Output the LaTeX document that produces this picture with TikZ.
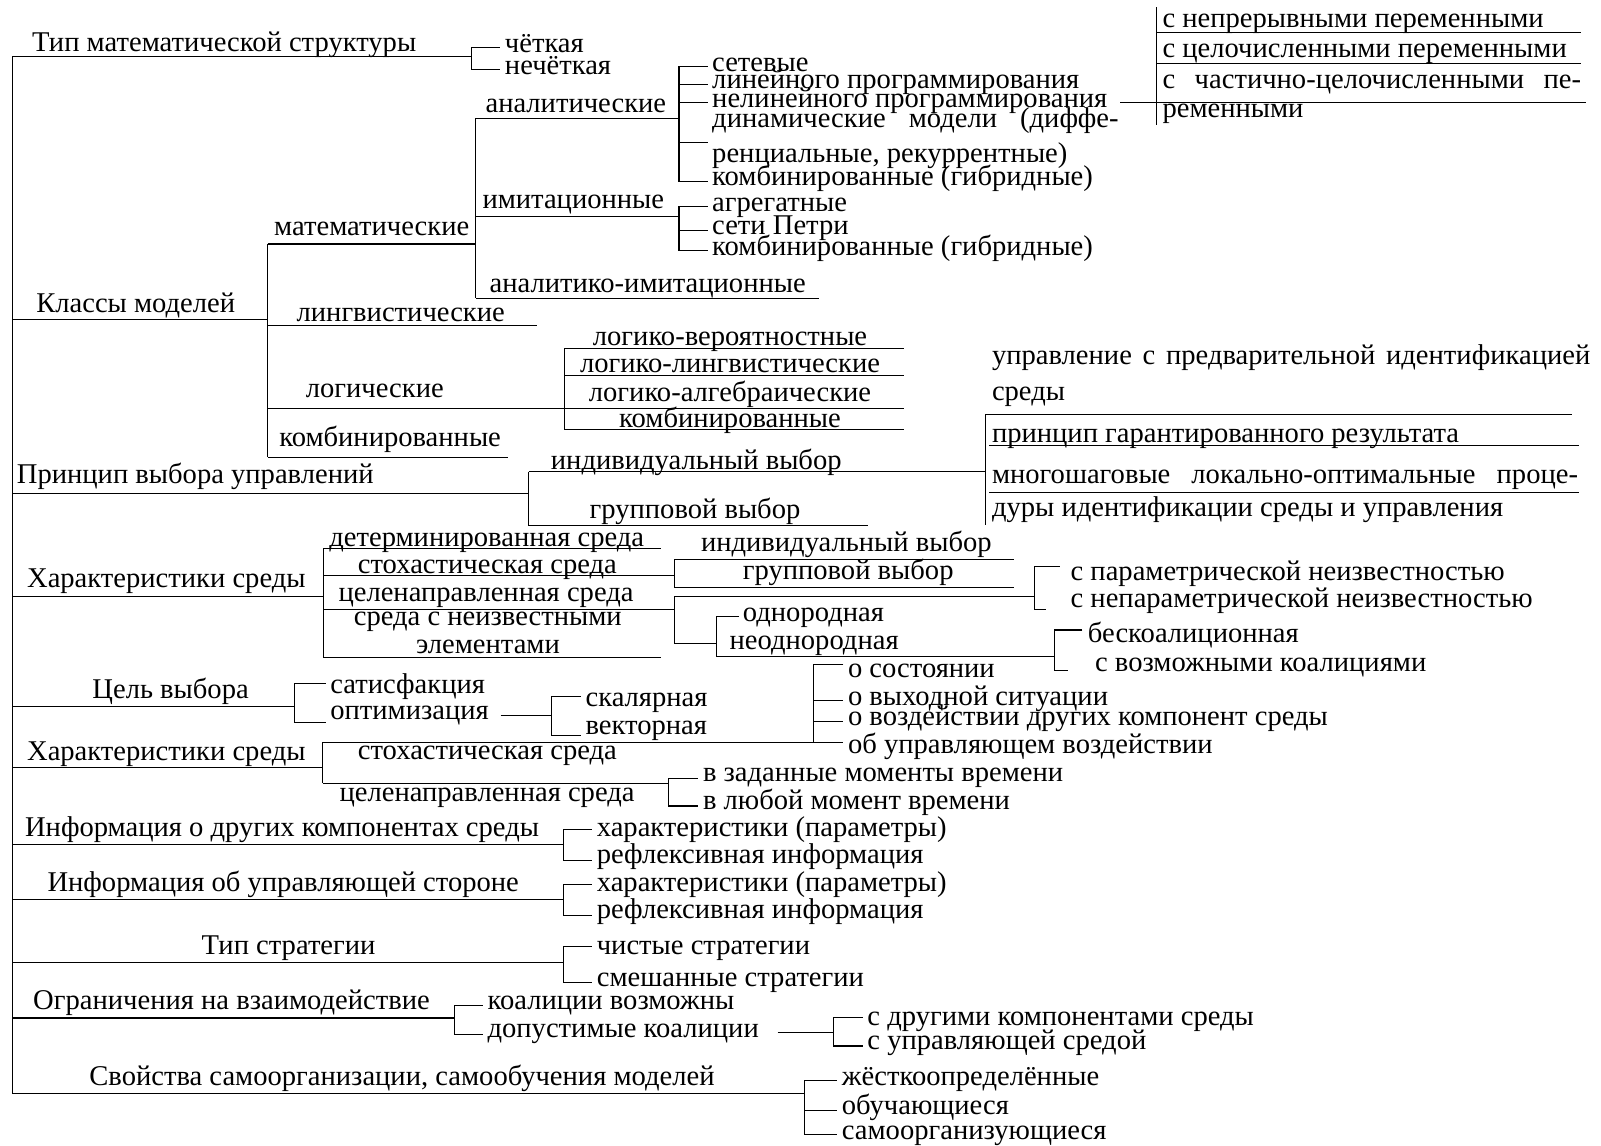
\documentclass[tikz,border=0pt]{standalone}
\usepackage{fontspec}
\setmainfont{Liberation Serif}
\usetikzlibrary{positioning}

\tikzset{
  lbl/.style={anchor=mid west, inner xsep=2pt, inner ysep=1pt, yshift=-2.2pt},
  lblc/.style={anchor=mid, inner xsep=2pt, inner ysep=1pt, yshift=-2.2pt},
}

\begin{document}
\begin{tikzpicture}[x=0.5pt, y=-0.5pt, line width=0.55pt, font=\fontsize{14}{17}\selectfont]
\useasboundingbox (0,0) rectangle (1568,1122);

% main trunk
\coordinate (trT) at (12,55);
\coordinate (trB) at (12,1071);
\draw (trT) -- (trB);

% type of mathematical structure
\node[lbl] (tms) at (27,41) {Тип математической структуры};
\coordinate (tmsJ) at (462,55);
\node[lbl] (chet) at (490,42) {чёткая};
\node[lbl] (nechet) at (490,64) {нечёткая};
\draw (trT) -- (tmsJ);
\draw (tmsJ) |- (chet.mid west);
\draw (tmsJ) |- (nechet.mid west);

% model classes
\node[lbl] (kls) at (31,297) {Классы моделей};
\coordinate (klsL) at (12,313);
\coordinate (klsJ) at (262,313);
\coordinate (klsT) at (262,239);
\coordinate (klsB) at (262,448);
\draw (klsL) -- (klsJ);
\draw (klsT) -- (klsB);

\node[lbl] (mat) at (264,222) {математические};
\coordinate (matT) at (466,116);
\coordinate (matJ) at (466,239);
\coordinate (matB) at (466,292);
\draw (klsT) -- (matJ);
\draw (matT) -- (matB);

\node[lbl] (anl) at (471,101) {аналитические};
\coordinate (anlJ) at (665,116);
\draw (matT) -- (anlJ);
\node[lbl] (setv) at (693,61) {сетевые};
\node[lbl] (linp) at (693,78) {линейного программирования};
\node[lbl] (nlinp) at (693,96) {нелинейного программирования};
\node[lbl, anchor=west, align=left] (dyn) at (693,131)
  {\makebox[199pt][s]{динамические модели (диффе-}\\ренциальные, рекуррентные)};
\node[lbl] (kmbg) at (693,173) {комбинированные (гибридные)};
\foreach \n in {setv,linp,nlinp,kmbg}
  \draw (anlJ) |- (\n.mid west);
\draw (anlJ) |- ([yshift=-2pt]dyn.west);

% kinds of variables
\node[lbl] (nepr) at (1134,18) {с непрерывными переменными};
\node[lbl] (celc) at (1134,47) {с целочисленными переменными};
\node[lbl] (chst) at (1134,78) {\makebox[205pt][s]{с частично-целочисленными пе-}};
\node[lbl] (chst2) at (1134,106) {ременными};
\coordinate (varT) at (1133,7);
\coordinate (varB) at (1133,122);
\coordinate (var1) at (1133,32);
\coordinate (var1E) at (1548,32);
\coordinate (var2) at (1133,62);
\coordinate (var2E) at (1548,62);
\coordinate (var3E) at (1553,96);
\draw (varT) -- (varB);
\draw (var1) -- (var1E);
\draw (var2) -- (var2E);
\draw ([xshift=4pt]nlinp.mid east) -- (nlinp.mid east -| var3E);

\node[lbl] (imt) at (468,195) {имитационные};
\coordinate (imtL) at (466,212);
\coordinate (imtJ) at (665,212);
\draw (imtL) -- (imtJ);
\node[lbl] (agr) at (693,198) {агрегатные};
\node[lbl] (ptr) at (693,221) {сети Петри};
\node[lbl] (kmbg2) at (693,241) {комбинированные (гибридные)};
\foreach \n in {agr,ptr,kmbg2}
  \draw (imtJ) |- (\n.mid west);

\node[lbl] (anim) at (475,277) {аналитико-имитационные};
\coordinate (animE) at (802,292);
\draw (matB) -- (animE);

\node[lbl] (lng) at (286,306) {лингвистические};
\coordinate (lngL) at (262,319);
\coordinate (lngE) at (526,319);
\draw (lngL) -- (lngE);

\node[lbl] (lgc) at (295,380) {логические};
\coordinate (lgcL) at (262,400);
\coordinate (lgcT) at (553,341);
\coordinate (lgc2) at (553,368);
\coordinate (lgcB) at (553,421);
\coordinate (lgcE) at (885,400);
\draw (lgcL) -- (lgcE);
\draw (lgcT) -- (lgcB);
\draw (lgcT) -- (lgcT -| lgcE);
\draw (lgc2) -- (lgc2 -| lgcE);
\draw (lgcB) -- (lgcB -| lgcE);
\foreach \y/\n/\t in {329/lg1/логико-вероятностные, 356/lg2/логико-лингвистические,
    384/lg3/логико-алгебраические, 410/lg4/комбинированные}
  \node[lblc] (\n) at (715,\y) {\t};

\node[lbl] (kmbc) at (269,428) {комбинированные};
\coordinate (kmbcE) at (498,448);
\draw (klsB) -- (kmbcE);

% principle of control choice
\node[lbl] (prn) at (12,465) {Принцип выбора управлений};
\coordinate (prnL) at (12,483);
\coordinate (prnJ) at (518,483);
\coordinate (prnT) at (518,462);
\coordinate (prnB) at (518,515);
\draw (prnL) -- (prnJ);
\draw (prnT) -- (prnB);
\node[lbl] (ind) at (535,451) {индивидуальный выбор};
\node[lbl] (grp) at (573,499) {групповой выбор};
\coordinate (indJ) at (965,462);
\coordinate (grpE) at (850,515);
\draw (prnT) -- (indJ);
\draw (prnB) -- (grpE);
\coordinate (idT) at (965,406);
\coordinate (idB) at (965,514);
\coordinate (idTE) at (1540,406);
\coordinate (id2) at (969,436);
\coordinate (id2E) at (1546,436);
\coordinate (id3) at (969,482);
\coordinate (id3E) at (1546,482);
\draw (idT) -- (idB);
\draw (idT) -- (idTE);
\draw (id2) -- (id2E);
\draw (id3) -- (id3E);
\node[lbl] (upr) at (967,348) {\makebox[293pt][s]{управление с предварительной идентификацией}};
\node[lbl] (upr2) at (967,383) {среды};
\node[lbl] (grnt) at (967,424) {принцип гарантированного результата};
\node[lbl] (mnog) at (967,465) {\makebox[287pt][s]{многошаговые локально-оптимальные проце-}};
\node[lbl] (mnog2) at (967,497) {дуры идентификации среды и управления};

% environment, first
\node[lbl] (hs1) at (22,566) {Характеристики среды};
\coordinate (hs1L) at (12,584);
\coordinate (hs1J) at (317,584);
\coordinate (hs1T) at (317,537);
\coordinate (hs1B) at (317,644);
\draw (hs1L) -- (hs1J);
\draw (hs1T) -- (hs1B);
\node[lbl] (det) at (318,526) {детерминированная среда};
\node[lbl] (sth) at (346,553) {стохастическая среда};
\node[lbl] (cln) at (327,580) {целенаправленная среда};
\node[lbl] (nzv) at (342,604) {среда с неизвестными};
\node[lbl] (nzv2) at (403,631) {элементами};
\coordinate (detE) at (647,537);
\coordinate (sthL) at (317,564);
\coordinate (sthJ) at (661,564);
\coordinate (clnL) at (317,597);
\coordinate (clnJ) at (661,597);
\coordinate (nzvE) at (647,644);
\draw (hs1T) -- (detE);
\draw (sthL) -- (sthJ);
\draw (clnL) -- (clnJ);
\draw (hs1B) -- (nzvE);

\coordinate (sthT) at (661,548);
\coordinate (sthB) at (661,575);
\coordinate (sthTE) at (993,548);
\coordinate (sthBE) at (993,575);
\draw (sthTE) -- (sthT) -- (sthB) -- (sthBE);
\node[lbl] (ind2) at (682,531) {индивидуальный выбор};
\node[lbl] (grp2) at (723,559) {групповой выбор};

\coordinate (clnT) at (661,584);
\coordinate (clnB) at (661,630);
\coordinate (parJ) at (1013,584);
\coordinate (odnJ) at (702,630);
\draw (parJ) -- (clnT) -- (clnB) -- (odnJ);
\coordinate (parT) at (1013,555);
\coordinate (parB) at (1013,597);
\coordinate (parTE) at (1038,555);
\coordinate (parBE) at (1024,597);
\draw (parTE) -- (parT) -- (parB) -- (parBE);
\node[lbl] (par) at (1044,560) {с параметрической неизвестностью};
\node[lbl] (npar) at (1044,586) {с непараметрической неизвестностью};

\coordinate (odnT) at (702,604);
\coordinate (odnB) at (702,643);
\coordinate (odnTE) at (724,604);
\draw (odnTE) -- (odnT) -- (odnB);
\node[lbl] (odn) at (723,600) {однородная};
\node[lbl] (nodn) at (710,627) {неоднородная};
\coordinate (bkJ) at (1033,643);
\draw (odnB) -- (bkJ);
\coordinate (bkT) at (1033,617);
\coordinate (bkB) at (1033,657);
\coordinate (bkTE) at (1060,617);
\coordinate (bkBE) at (1046,657);
\draw (bkTE) -- (bkT) -- (bkB) -- (bkBE);
\node[lbl] (bk) at (1061,620) {бескоалиционная};
\node[lbl] (vk) at (1068,649) {с возможными коалициями};

% aim of choice
\node[lbl] (cel) at (86,675) {Цель выбора};
\coordinate (celL) at (12,692);
\coordinate (celJ) at (288,692);
\draw (celL) -- (celJ);
\node[lbl] (sat) at (319,670) {сатисфакция};
\node[lbl] (opt) at (319,696) {оптимизация};
\draw (celJ) |- ([yshift=2.5pt]sat.mid west);
\draw (celJ) |- ([yshift=-3.5pt]opt.mid west);
\coordinate (optJ) at (540,699);
\draw ([xshift=3.5pt]opt.mid east) -- (opt.mid east -| optJ);
\node[lbl] (skl) at (569,683) {скалярная};
\node[lbl] (vkt) at (569,710) {векторная};
\draw (opt.mid east -| optJ) |- ([yshift=2.5pt]skl.mid west);
\draw (opt.mid east -| optJ) |- ([yshift=-3pt]vkt.mid west);

% environment, second
\node[lbl] (hs2) at (22,736) {Характеристики среды};
\coordinate (hs2L) at (12,752);
\coordinate (hs2J) at (316,752);
\coordinate (hs2T) at (316,727);
\coordinate (hs2B) at (316,767);
\draw (hs2L) -- (hs2J);
\draw (hs2T) -- (hs2B);
\node[lbl] (sth3) at (346,735) {стохастическая среда};
\node[lbl] (cln3) at (328,776) {целенаправленная среда};
\coordinate (infJ) at (797,727);
\coordinate (infT) at (797,651);
\node[lbl] (ost) at (826,655) {о состоянии};
\node[lbl] (ovs) at (826,682) {о выходной ситуации};
\node[lbl] (ovd) at (826,702) {о воздействии других компонент среды};
\node[lbl] (ouv) at (826,729) {об управляющем воздействии};
\draw (ost.west |- infT) -- (infT) -- (infJ) -- (hs2T);
\draw (infJ) -- (ouv.west |- infJ);
\foreach \n in {ovs,ovd}
  \draw (infJ) |- (\n.mid west);
\coordinate (vzJ) at (655,767);
\draw (hs2B) -- (vzJ);
\node[lbl] (vzm) at (684,756) {в заданные моменты времени};
\node[lbl] (vlm) at (684,784) {в любой момент времени};
\draw (vzJ) |- ([yshift=-1pt]vzm.mid west);
\draw (vzJ) |- ([yshift=-0.5pt]vlm.mid west);

% information
\node[lbl] (inf1) at (20,810) {Информация о других компонентах среды};
\coordinate (inf1L) at (12,827);
\coordinate (inf1J) at (552,827);
\draw (inf1L) -- (inf1J);
\node[lbl] (hp1) at (580,810) {характеристики (параметры)};
\node[lbl] (ri1) at (580,837) {рефлексивная информация};
\draw (inf1J) |- ([yshift=1pt]hp1.mid west);
\draw (inf1J) |- ([yshift=-0.5pt]ri1.mid west);

\node[lbl] (inf2) at (42,864) {Информация об управляющей стороне};
\coordinate (inf2L) at (12,881);
\coordinate (inf2J) at (552,881);
\draw (inf2L) -- (inf2J);
\node[lbl] (hp2) at (580,864) {характеристики (параметры)};
\node[lbl] (ri2) at (580,891) {рефлексивная информация};
\draw (inf2J) |- ([yshift=1pt]hp2.mid west);
\draw (inf2J) |- ([yshift=-0.5pt]ri2.mid west);

% strategy
\node[lbl] (str) at (193,926) {Тип стратегии};
\coordinate (strL) at (12,943);
\coordinate (strJ) at (552,943);
\draw (strL) -- (strJ);
\node[lbl] (chs) at (580,926) {чистые стратегии};
\node[lbl] (smsh) at (580,957) {смешанные стратегии};
\draw (strJ) |- ([yshift=1.5pt]chs.mid west);
\draw (strJ) |- ([yshift=-0.5pt]smsh.mid west);

% interaction constraints
\node[lbl] (ogr) at (28,980) {Ограничения на взаимодействие};
\coordinate (ogrL) at (12,997);
\coordinate (ogrJ) at (445,997);
\draw (ogrL) -- (ogrJ);
\node[lbl] (koal) at (473,980) {коалиции возможны};
\node[lbl] (dkoal) at (473,1007) {допустимые коалиции};
\draw (ogrJ) |- (koal.mid west);
\draw (ogrJ) |- ([yshift=-1pt]dkoal.mid west);
\coordinate (dkJ) at (816,1008);
\draw ([xshift=7pt]dkoal.mid east) -- (dkoal.mid east -| dkJ);
\node[lbl] (skm) at (845,995) {с другими компонентами среды};
\node[lbl] (sus) at (845,1019) {с управляющей средой};
\draw (dkoal.mid east -| dkJ) |- ([yshift=1.5pt]skm.mid west);
\draw (dkoal.mid east -| dkJ) |- ([yshift=-0.5pt]sus.mid west);

% self-organisation
\node[lbl] (svo) at (83,1054) {Свойства самоорганизации, самообучения моделей};
\coordinate (svoJ) at (788,1071);
\draw (trB) -- (svoJ);
\node[lbl] (jst) at (820,1054) {жёсткоопределённые};
\node[lbl] (obu) at (820,1083) {обучающиеся};
\node[lbl] (sam) at (820,1107) {самоорганизующиеся};
\foreach \n in {jst,obu,sam}
  \draw (svoJ) |- (\n.mid west);
\end{tikzpicture}
\end{document}
